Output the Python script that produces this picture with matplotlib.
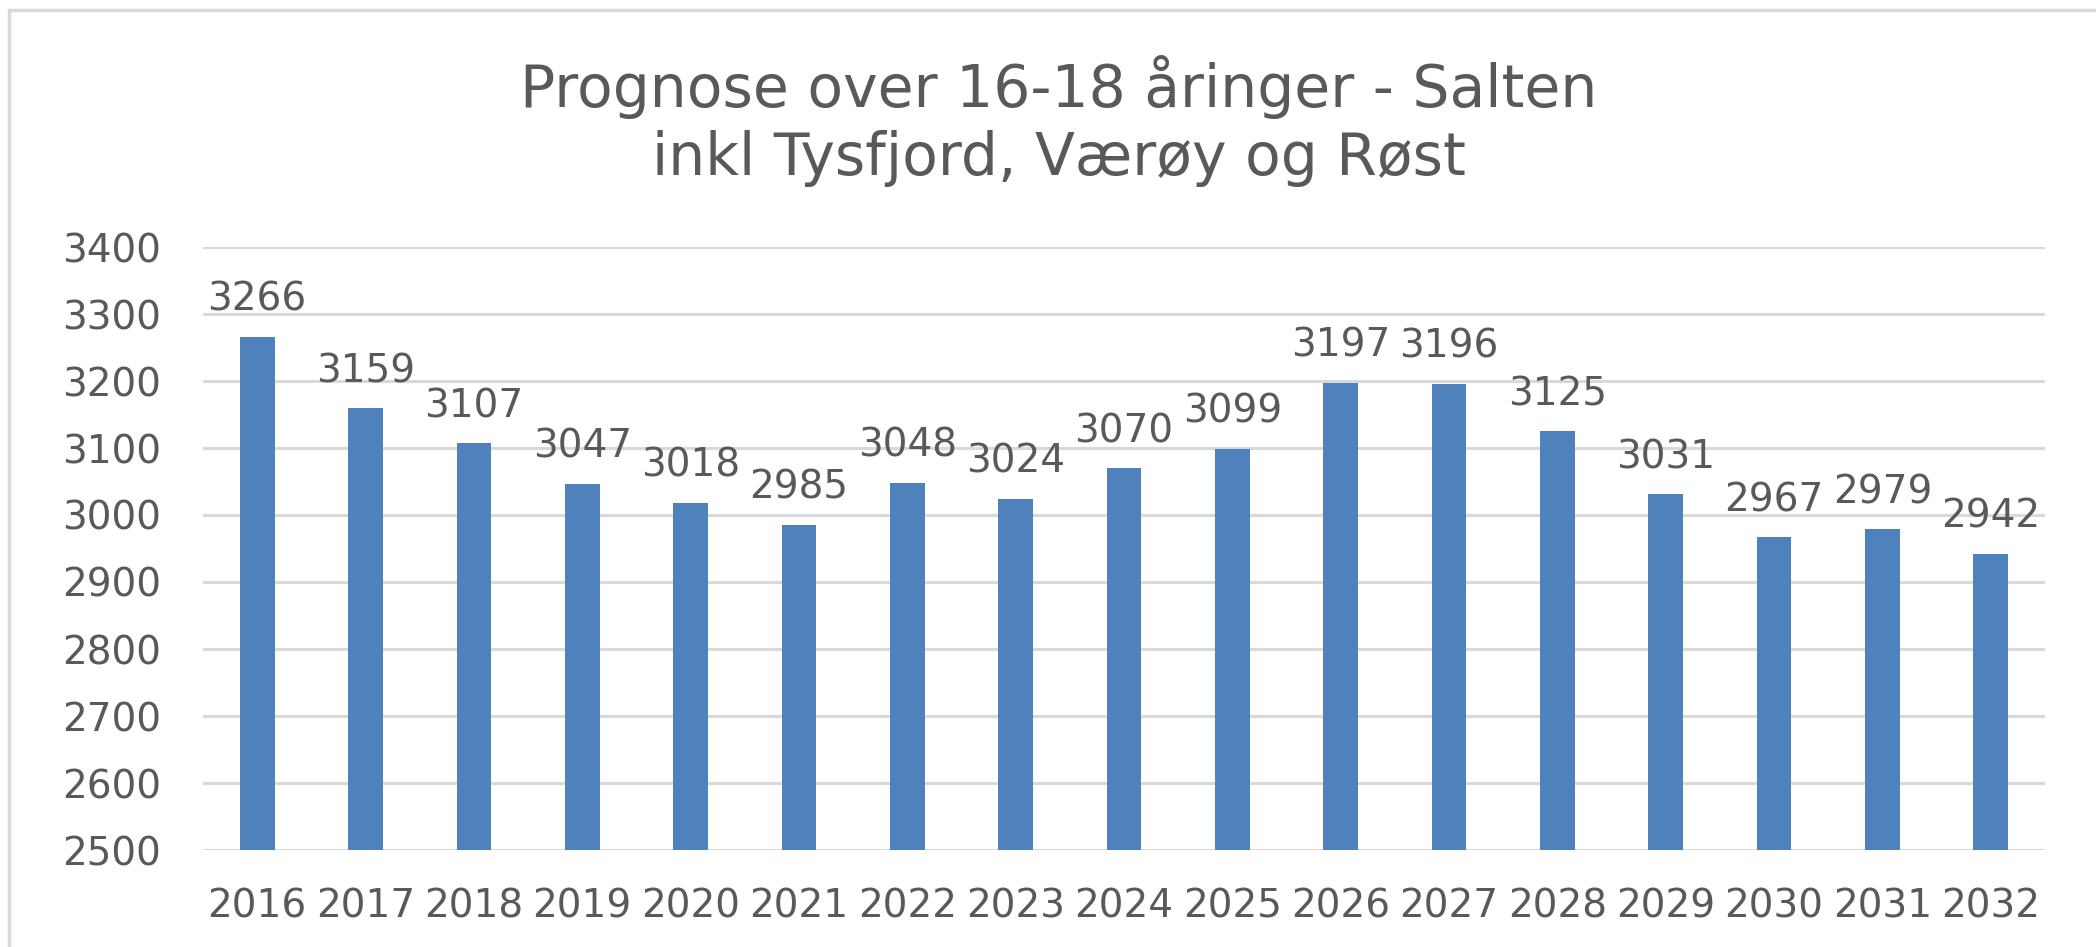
import matplotlib
matplotlib.use("Agg")
import matplotlib.pyplot as plt
from matplotlib.patches import Rectangle

years = ["2016", "2017", "2018", "2019", "2020", "2021", "2022", "2023", "2024",
         "2025", "2026", "2027", "2028", "2029", "2030", "2031", "2032"]
values = [3266, 3159, 3107, 3047, 3018, 2985, 3048, 3024, 3070,
          3099, 3197, 3196, 3125, 3031, 2967, 2979, 2942]
yticks = [2500, 2600, 2700, 2800, 2900, 3000, 3100, 3200, 3300, 3400]

W, H = 2096, 947
fig = plt.figure(figsize=(W / 100, H / 100), dpi=100)
plt.rcParams["font.family"] = ["DejaVu Sans"]
txt = "#595959"
fs = 28

# chart border (only top/left visible in the crop)
fig.patches.append(Rectangle((9 / W, -0.1), 1.2, 1 - 10 / H + 0.1,
                             transform=fig.transFigure, fill=False,
                             ec="#D9D9D9", lw=2.5))

ax = fig.add_axes([203 / W, 1 - 850 / H, (2045 - 203) / W, (850 - 247) / H])
x = range(len(years))
bars = ax.bar(x, values, width=0.32, color="#4F81BD", zorder=3)
ax.set_xlim(-0.5, len(years) - 0.5)
ax.set_ylim(2500, 3400)
ax.set_yticks(yticks)
ax.set_xticks(list(x))
ax.set_xticklabels(years)
ax.grid(axis="y", color="#D9D9D9", lw=2.2, zorder=0)
for s in ax.spines.values():
    s.set_visible(False)
ax.tick_params(axis="both", length=0, labelsize=fs, colors=txt)
ax.tick_params(axis="y", pad=30)
ax.tick_params(axis="x", pad=27)

for b, v in zip(bars, values):
    ax.annotate(str(v), (b.get_x() + b.get_width() / 2, v), xytext=(0, 13),
                textcoords="offset points", ha="center", va="bottom",
                fontsize=fs, color=txt)

fig.text(0.505, 1 - 121 / H, "Prognose over 16-18 åringer - Salten\ninkl Tysfjord, Værøy og Røst",
         ha="center", va="center", fontsize=42, color=txt, linespacing=1.25)

fig.savefig("out.png", dpi=100)
